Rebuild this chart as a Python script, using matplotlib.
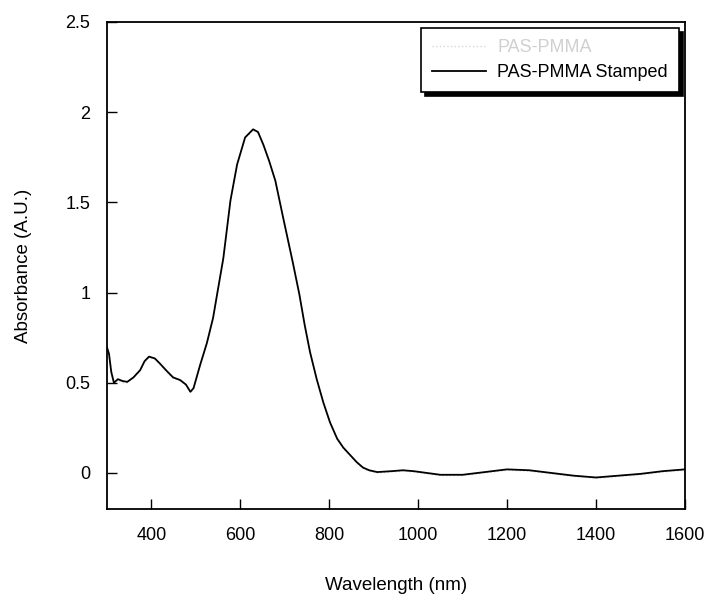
import matplotlib.pyplot as plt
import numpy as np

plt.rcParams['font.family'] = ['Liberation Sans', 'DejaVu Sans']

# wavelength (nm) and absorbance
wavelength = [300, 305, 310, 316, 325, 335, 346, 360, 375, 385, 395, 408, 420,
              435, 449, 465, 478, 488, 495, 510, 525, 539, 548, 562, 578, 593,
              611, 629, 640, 652, 665, 679, 697, 718, 733, 745, 757, 772, 787,
              802, 818, 832, 847, 862, 876, 890, 908, 940, 966, 990, 1020, 1050,
              1100, 1150, 1200, 1250, 1300, 1350, 1400, 1450, 1500, 1550, 1600]
stamped = [0.70, 0.66, 0.56, 0.50, 0.52, 0.51, 0.505, 0.53, 0.57, 0.62, 0.645,
           0.635, 0.605, 0.565, 0.53, 0.515, 0.49, 0.45, 0.47, 0.60, 0.72, 0.86,
           0.99, 1.19, 1.51, 1.71, 1.86, 1.905, 1.89, 1.82, 1.73, 1.62, 1.41,
           1.17, 0.99, 0.82, 0.67, 0.52, 0.39, 0.28, 0.19, 0.14, 0.10, 0.06,
           0.03, 0.015, 0.005, 0.01, 0.015, 0.01, 0.00, -0.01, -0.01, 0.005,
           0.02, 0.015, 0.0, -0.015, -0.025, -0.015, -0.005, 0.01, 0.02]
# the faint first series, almost hidden under the stamped one
original = [0.68, 0.64, 0.58, 0.51, 0.51, 0.50, 0.50, 0.525, 0.565, 0.615, 0.64,
            0.63, 0.60, 0.56, 0.525, 0.51, 0.485, 0.445, 0.465, 0.595, 0.715,
            0.855, 0.985, 1.185, 1.505, 1.705, 1.855, 1.90, 1.885, 1.815, 1.725,
            1.615, 1.405, 1.165, 0.985, 0.815, 0.665, 0.515, 0.385, 0.275, 0.185,
            0.135, 0.095, 0.055, 0.025, 0.01, 0.0, 0.005, 0.01, 0.005, -0.005,
            -0.015, -0.015, 0.0, 0.015, 0.01, -0.005, -0.02, -0.03, -0.02, -0.01,
            0.005, 0.015]

fig = plt.figure(figsize=(7.12, 5.94), dpi=100)
ax = fig.add_axes([0.150, 0.143, 0.812, 0.820])

ax.plot(wavelength, original, color='#d8d8d8', lw=1.0, ls=':', label='PAS-PMMA')
ax.plot(wavelength, stamped, color='black', lw=1.3, label='PAS-PMMA Stamped')

ax.set_xlim(300, 1600)
ax.set_ylim(-0.2, 2.5)
ax.set_xticks([400, 600, 800, 1000, 1200, 1400, 1600])
ax.set_yticks([0, 0.5, 1, 1.5, 2, 2.5])
ax.set_yticklabels(['0', '0.5', '1', '1.5', '2', '2.5'])
ax.tick_params(direction='in', length=7, width=1, labelsize=13, pad=13)
ax.tick_params(axis='y', pad=12)
for s in ax.spines.values():
    s.set_linewidth(1.3)

ax.set_xlabel('Wavelength (nm)', fontsize=13.5, labelpad=24)
ax.set_ylabel('Absorbance (A.U.)', fontsize=13.5, labelpad=24)

leg = ax.legend(loc='upper right', fontsize=13, frameon=True, fancybox=False,
                edgecolor='black', borderaxespad=0.35, handlelength=3.0,
                labelspacing=0.45, borderpad=0.6, handletextpad=0.6,
                shadow={'color': 'black', 'alpha': 1.0, 'ox': 3, 'oy': -3})
leg.get_frame().set_linewidth(1.2)
leg.get_texts()[0].set_color('#d0d0d0')

plt.savefig('out.png', dpi=100)
